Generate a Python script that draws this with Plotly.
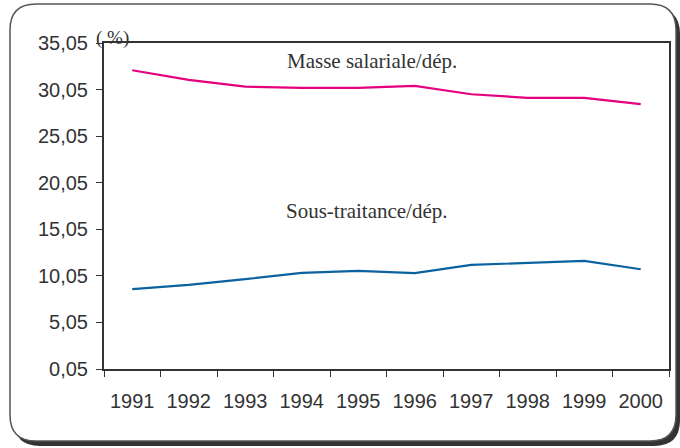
import plotly.graph_objects as go

years = ["1991", "1992", "1993", "1994", "1995", "1996", "1997", "1998", "1999", "2000"]
masse_salariale = [32.12, 31.09, 30.37, 30.23, 30.23, 30.45, 29.55, 29.16, 29.16, 28.48]
sous_traitance = [8.62, 9.08, 9.69, 10.37, 10.59, 10.34, 11.23, 11.44, 11.66, 10.76]
y_ticks = [0.05, 5.05, 10.05, 15.05, 20.05, 25.05, 30.05, 35.05]
y_tick_labels = [f"{v:.2f}".replace(".", ",") for v in y_ticks]

W, H = 680, 448
L, R, T, B = 104, 11, 43, 79
PW, PH = W - L - R, H - T - B


def px(x):
    return (x - L) / PW


def py(y):
    return (H - B - y) / PH


def rrect(x0, y0, x1, y1, r):
    pts = [
        ("M", (x0 + r, y0)),
        ("L", (x1 - r, y0)),
        ("Q", (x1, y0), (x1, y0 + r)),
        ("L", (x1, y1 - r)),
        ("Q", (x1, y1), (x1 - r, y1)),
        ("L", (x0 + r, y1)),
        ("Q", (x0, y1), (x0, y1 - r)),
        ("L", (x0, y0 + r)),
        ("Q", (x0, y0), (x0 + r, y0)),
    ]
    s = ""
    for p in pts:
        cmd = p[0]
        coords = " ".join(f"{px(a):.5f},{py(b):.5f}" for a, b in p[1:])
        s += f"{cmd} {coords} "
    return s + "Z"


fig = go.Figure()
fig.add_trace(go.Scatter(x=years, y=masse_salariale, mode="lines",
                         line=dict(color="#E5007D", width=2.2), showlegend=False))
fig.add_trace(go.Scatter(x=years, y=sous_traitance, mode="lines",
                         line=dict(color="#0B62A0", width=2.2), showlegend=False))

fig.add_shape(type="path", xref="paper", yref="paper", layer="below",
              path=rrect(14, 8, 680, 446, 26), fillcolor="#333333",
              line=dict(width=0))
fig.add_shape(type="path", xref="paper", yref="paper", layer="below",
              path=rrect(10, 4, 676, 441, 26), fillcolor="white",
              line=dict(color="#555555", width=1.5))

ann_font = dict(family="Liberation Serif", size=21, color="#333333")
fig.add_annotation(x=px(372), y=py(61), xref="paper", yref="paper",
                   xanchor="center", yanchor="middle",
                   text="Masse salariale/dép.", showarrow=False, font=ann_font)
fig.add_annotation(x=px(367), y=py(211), xref="paper", yref="paper",
                   xanchor="center", yanchor="middle",
                   text="Sous-traitance/dép.", showarrow=False, font=ann_font)
fig.add_annotation(x=px(112), y=py(38), xref="paper", yref="paper",
                   xanchor="center", yanchor="middle",
                   text="( %)", showarrow=False,
                   font=dict(family="Liberation Serif", size=19, color="#333333"))

fig.update_layout(
    width=W, height=H, autosize=False,
    margin=dict(l=L, r=R, t=T, b=B, pad=0, autoexpand=False),
    paper_bgcolor="white", plot_bgcolor="white",
    font=dict(family="Liberation Sans", size=20, color="#333333"),
    xaxis=dict(type="category", range=[-0.5, 9.5], tickson="boundaries",
               ticks="outside", ticklen=6, tickcolor="#333333", tickwidth=1,
               showline=True, linecolor="#333333", linewidth=2, mirror=True,
               showgrid=False, zeroline=False, ticklabelstandoff=13,
               automargin=False),
    yaxis=dict(range=[0.05, 35.05], tickvals=y_ticks, ticktext=y_tick_labels,
               ticks="outside", ticklen=6, tickcolor="#333333", tickwidth=1,
               showline=True, linecolor="#333333", linewidth=2, mirror=True,
               showgrid=False, zeroline=False, ticklabelstandoff=4,
               automargin=False),
)

fig.write_html("out.html", config={"responsive": False, "displayModeBar": False},
               post_script="document.body.style.margin='0';document.body.style.overflow='hidden';")
